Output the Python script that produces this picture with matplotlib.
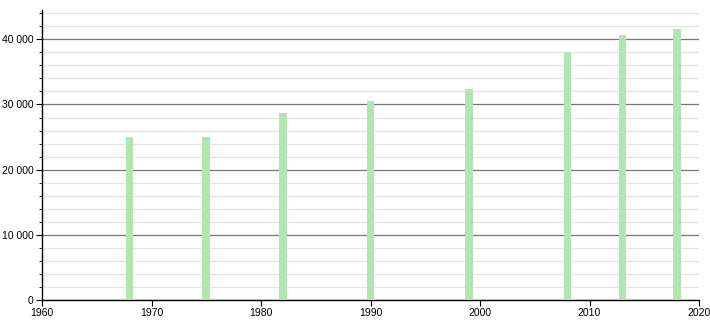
import matplotlib
matplotlib.use("Agg")
import matplotlib.pyplot as plt
from matplotlib.ticker import MultipleLocator, FuncFormatter

years = [1968, 1975, 1982, 1990, 1999, 2008, 2013, 2018]
population = [25000, 25000, 28630, 30520, 32360, 37990, 40640, 41520]
x_ticks = [1960, 1970, 1980, 1990, 2000, 2010, 2020]

plt.rcParams['font.family'] = ['Liberation Sans', 'DejaVu Sans']

fig = plt.figure(figsize=(7.1, 3.2), dpi=100)
ax = fig.add_axes([42/710, 20/320, (699-42)/710, 290/320])

ax.bar(years, population, width=0.7, color='#b2e5b2', edgecolor='none', zorder=3)

ax.set_xlim(1960, 2020)
ax.set_ylim(0, 44500)
ax.set_xticks(x_ticks)
ax.yaxis.set_major_locator(MultipleLocator(10000))
ax.yaxis.set_minor_locator(MultipleLocator(2000))
ax.yaxis.set_major_formatter(FuncFormatter(lambda v, p: f"{int(v):,}".replace(",", " ")))

ax.grid(axis='y', which='minor', color='#e4e4e4', linewidth=0.9, zorder=0)
ax.grid(axis='y', which='major', color='#777777', linewidth=0.9, zorder=1)

for s in ['top', 'right']:
    ax.spines[s].set_visible(False)
for s in ['left', 'bottom']:
    ax.spines[s].set_color('black')
    ax.spines[s].set_linewidth(1.0)

ax.tick_params(axis='both', which='major', labelsize=7.5, length=4, width=0.8, color='black', pad=2)
ax.tick_params(axis='y', which='minor', length=2, width=0.6, color='black')

fig.savefig("out.png", dpi=100)
